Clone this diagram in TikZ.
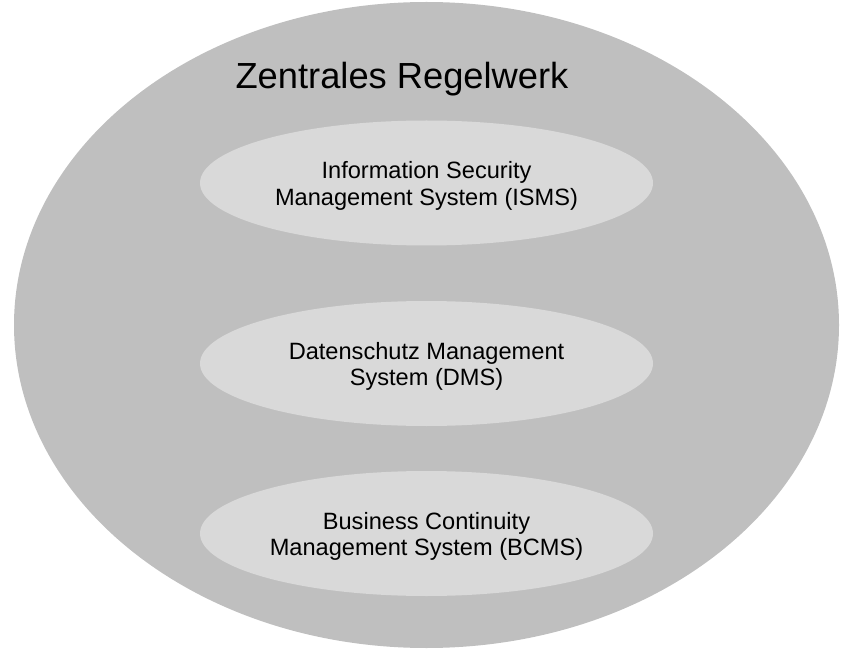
\documentclass[tikz,border=0pt]{standalone}
\usepackage{fontspec}
\setmainfont{Liberation Sans}
\usetikzlibrary{shapes.geometric}
\definecolor{outergray}{HTML}{BFBFBF}
\definecolor{innergray}{HTML}{D9D9D9}
\tikzset{
  framework/.style={ellipse, fill=outergray, draw=none, inner sep=0pt,
    minimum width=825pt, minimum height=646pt},
  subsystem/.style={ellipse, fill=innergray, draw=none, inner sep=0pt,
    minimum width=453pt, minimum height=125pt},
  systext/.style={align=center, inner sep=0pt, yshift=-2.7pt,
    font=\fontsize{23.6}{26.5}\selectfont},
  heading/.style={anchor=base, inner sep=0pt, font=\fontsize{36.3}{40}\selectfont}
}
\begin{document}
\begin{tikzpicture}[x=1pt, y=-1pt]
  \useasboundingbox (0,0) rectangle (843,652);
  % outer rule framework
  \node[framework] (rw) at (426.5,325) {};
  \node[heading] (title) at (402,89) {Zentrales Regelwerk};
  % management systems
  \node[subsystem, label={[systext]center:{Information Security\\Management System (ISMS)}}]
    (isms) at (426.5,183) {};
  \node[subsystem, label={[systext]center:{Datenschutz Management\\System (DMS)}}]
    (dms) at (426.5,363.5) {};
  \node[subsystem, label={[systext]center:{Business Continuity\\Management System (BCMS)}}]
    (bcms) at (426.5,533.5) {};
\end{tikzpicture}
\end{document}
